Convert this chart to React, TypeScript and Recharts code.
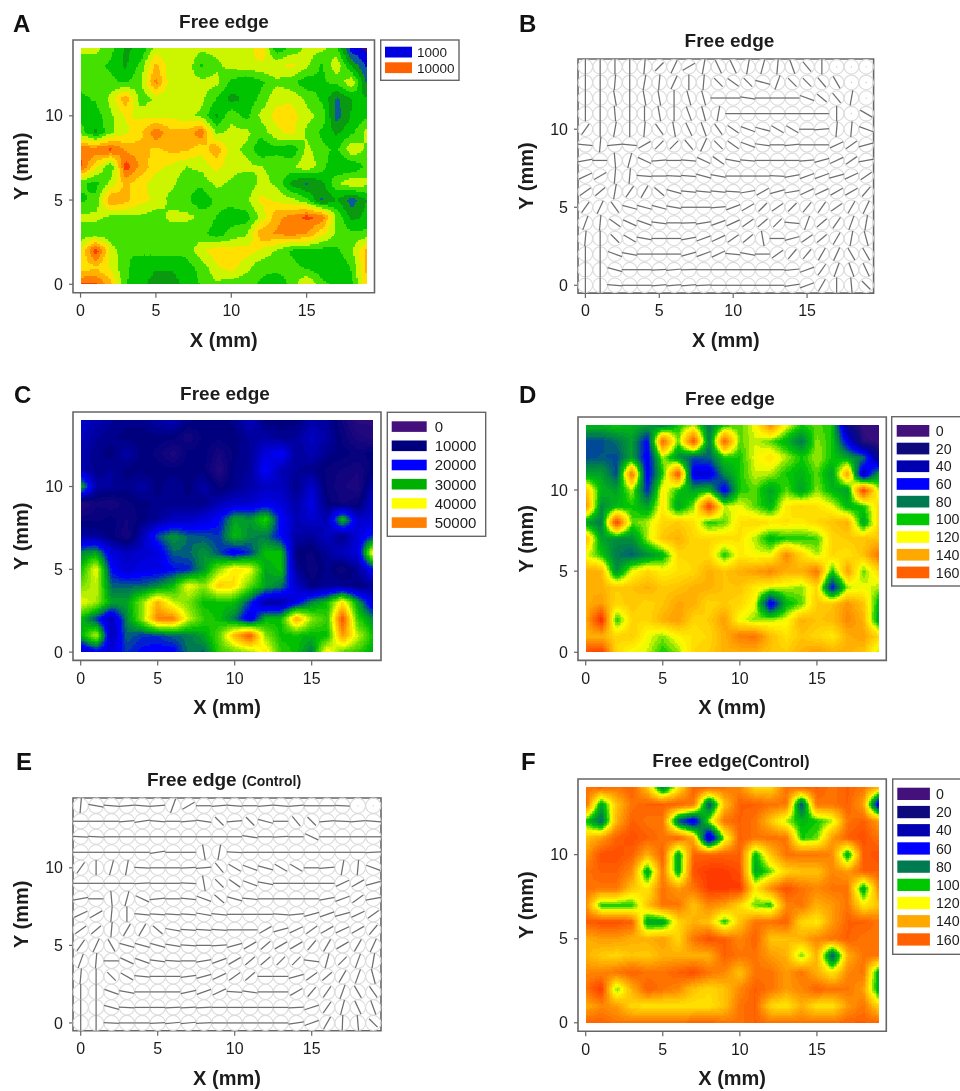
import React from 'react';
import { ScatterChart, Scatter, XAxis, YAxis, ReferenceArea, Label } from 'recharts';

// ---- measured grids: first row is Y = 14, last row is Y = 0; columns X = 0..19 ----
// Panel A, thousands of counts
const panelA = [
  [6,6,5,3.5,4,6,6,6.5,6,6,6,6,7.5,4,5,6,6,5,1,0.5],
  [5,5,4.5,3.5,5,8,6,6.5,4.5,5.5,6,6.5,6.5,6.5,7,6,4.5,6.5,3.5,1.5],
  [5,5,5,4.5,5.5,9,6,6,6,6,4.5,3.7,4.5,5.5,5,4,4.5,5,6.5,2.5],
  [4.5,4.8,6,8.5,5,6,6,6,6,4.7,3.3,4,5,6.5,6.5,5.5,4.5,2.5,3.7,3.8],
  [4.3,4.2,5.5,6.8,6.5,6.5,6.5,6,5.5,3.5,5.5,4.3,6,7,7.2,6,5.5,2.2,3.8,4.5],
  [5.2,3.5,5.5,6.5,7.5,9.5,8,8,9.5,5.5,6,6,5,6.5,7,5.5,4.5,3.5,4.5,6],
  [9.5,9.5,10,8.5,8,7.5,8,8,7,8.5,6,5.5,3.8,4.3,3.8,6,5,4.5,6.5,5.5],
  [10,7,4.7,10.3,8.5,7,6.5,5.7,6,7,6.2,6,5.7,5.5,5.5,6.5,5.2,3.7,3.8,5],
  [5,4.3,6,8,7,6.2,6,5,5,6,5.5,4.8,6,5.5,3.3,2.5,3.4,5.5,6.5,6],
  [4.5,5,8.7,8,7,6.5,5.3,5,3.8,5,5,5.5,7,6.5,6,5,2.5,3.7,2.2,3.7],
  [6,6,5.5,5.5,5.5,5,6,6,5.5,4.7,4.2,4.2,6,8.5,9,10,9.5,5.5,3.3,4],
  [5,5,4.7,4.8,5,5,5,5,5,4.2,5,5.5,8.5,8.8,9,8.7,7,5.5,5,5],
  [6.5,10.5,6.5,4.7,4.8,5,5,5,6.5,7.3,7.2,7.2,6.5,5.5,4.5,4.3,4.3,4.5,5.5,8],
  [7,7.5,6.5,4.8,4.4,3.8,3.8,4.3,5,6.5,7.2,6,5,5,5,4.5,4,3.8,4.8,8],
  [10,10,8,4.8,4,3.2,3.2,4,4.8,5.5,5,5,4.5,4,5,7,5,4.5,4.5,7.5],
];
// Panel C, thousands of counts
const panelC = [
  [16,14,12,11,11,13,14,11,10,10,11,15,10,10,10,13,12,8,4,4],
  [15,12,11,10,10,10,10,7,10,10,10,12,13,11,12,15,13,9,6,5],
  [14,11,10,13,10,9,6,10,10,7,10,12,17,20,12,14,11,10,9,10],
  [14,11,12,10,10,10,10,10,10,5,11,12,20,14,12,11,9,8,7,10],
  [30,13,12,11,13,10,12,10,13,9,11,13,15,15,11,16,9,7,6,14],
  [5,8,7,9,10,11,11,11,11,14,16,16,18,17,13,18,10,8,9,16],
  [9,9,10,8,10,12,15,15,17,20,28,27,32,20,14,16,14,30,16,16],
  [13,12,10,7,14,23,27,24,23,22,30,26,25,20,13,12,15,11,17,22],
  [26,28,17,15,16,17,24,24,27,23,18,22,30,30,10,9,12,15,17,42],
  [30,40,20,16,18,18,20,21,27,36,42,40,28,30,12,8,11,8,12,20],
  [35,38,24,24,24,26,30,40,36,44,42,34,28,25,16,10,12,12,10,12],
  [40,37,28,28,36,46,38,35,30,30,30,22,13,13,18,26,30,42,28,16],
  [30,22,14,26,36,50,50,38,32,30,25,17,29,30,47,36,32,54,32,26],
  [28,38,14,24,22,22,24,25,28,34,46,54,36,30,30,29,30,48,38,30],
  [14,18,17,22,20,19,19,25,24,32,34,36,42,32,30,25,42,34,32,28],
];
// Panel D
const panelD = [
  [95,95,100,95,90,80,100,110,80,100,105,115,145,115,100,105,100,25,5,5],
  [72,72,78,90,60,155,105,160,80,155,105,112,105,95,80,108,100,55,10,5],
  [72,74,72,90,55,110,85,72,75,100,100,115,122,110,100,110,100,90,80,25],
  [90,90,72,150,55,100,160,50,50,85,100,112,110,100,95,105,90,140,40,90],
  [130,95,90,110,65,120,100,90,95,55,100,105,90,105,90,108,95,90,165,110],
  [145,85,95,100,90,120,90,108,165,112,115,105,95,120,125,122,115,95,100,125],
  [90,80,165,105,110,125,128,122,100,105,122,125,122,122,120,125,130,135,90,125],
  [135,90,85,85,110,130,135,125,125,125,122,110,95,100,100,103,125,128,130,130],
  [115,100,80,75,85,95,125,125,125,100,120,115,115,145,125,110,125,122,130,150],
  [135,135,85,115,125,118,122,125,135,130,135,140,145,135,135,150,100,140,105,125],
  [135,135,128,130,135,128,130,135,135,130,130,120,115,112,108,125,60,110,115,110],
  [135,140,125,130,125,130,138,135,125,128,125,115,50,95,105,128,130,142,130,95],
  [135,170,100,125,125,135,140,125,128,140,115,108,110,115,135,130,132,145,135,90],
  [135,135,125,128,115,108,118,122,125,135,148,150,132,122,130,125,120,135,140,125],
  [160,165,125,115,112,100,108,125,128,135,135,135,130,128,135,140,135,135,130,110],
];
// Panel F
const panelF = [
  [150,155,150,155,130,80,120,155,155,150,145,125,125,150,155,155,150,155,150,135],
  [155,90,130,150,155,155,155,150,70,130,155,155,150,150,70,150,150,155,140,50],
  [100,75,135,155,150,150,75,50,110,150,155,150,130,110,95,100,110,150,155,140],
  [130,140,155,160,155,150,155,135,40,110,155,150,150,150,100,105,140,155,160,150],
  [140,160,160,155,135,155,90,155,155,155,155,95,130,150,150,150,145,90,155,160],
  [150,155,155,145,90,150,90,160,165,165,160,90,105,125,130,130,145,140,155,155],
  [150,150,150,130,120,150,140,150,165,165,165,120,145,160,150,145,150,150,90,145],
  [145,100,100,100,130,150,150,130,145,140,125,105,100,145,150,135,140,150,120,130],
  [155,160,160,155,90,90,125,135,130,100,130,150,150,155,125,120,140,155,155,150],
  [135,140,140,135,135,140,125,150,160,155,145,155,130,130,135,145,150,155,150,150],
  [135,128,125,130,128,135,135,135,135,155,150,150,140,135,105,135,70,135,150,150],
  [145,145,150,155,150,150,155,160,150,145,130,150,150,140,150,135,120,145,150,90],
  [150,165,105,135,155,150,145,130,125,130,145,155,150,140,145,155,150,150,140,90],
  [135,145,140,125,122,120,122,122,122,130,150,155,125,120,135,122,122,140,150,125],
  [155,155,150,150,150,150,150,155,155,150,150,155,150,150,150,150,150,155,155,155],
];
// Panel B, fibre orientation in degrees (null: no preferred direction)
const panelB = [
  [90,90,90,90,85,45,65,30,80,-65,-65,80,75,85,-70,-50,90,null,null,null],
  [90,90,85,90,80,85,65,90,85,-45,-35,-45,-15,70,-45,-45,-50,-60,null,null],
  [90,90,-80,90,-80,-80,90,-75,-75,0,0,-8,0,0,0,-20,-40,-50,80,null],
  [90,90,-85,90,90,-80,90,-70,-75,80,0,0,0,0,0,0,0,90,null,-30],
  [55,90,80,90,85,-55,-80,-65,-70,-55,-35,-20,-15,-30,-30,0,5,85,85,-20],
  [-5,85,5,-5,30,45,45,-50,65,-45,-35,-20,-8,0,5,0,0,25,35,15],
  [10,0,-85,75,-25,5,0,-5,-25,-35,-10,-5,0,0,0,5,15,25,35,10],
  [25,30,85,85,-5,0,-3,-5,-15,-10,0,0,0,-3,10,20,20,15,25,35],
  [35,40,80,55,60,-40,-15,-5,-5,-5,-3,10,30,15,10,25,25,30,30,50],
  [55,65,-55,-15,-15,-15,-10,0,0,5,20,30,45,35,45,50,55,35,60,65],
  [70,85,-35,-25,-20,-8,0,2,10,20,25,35,40,45,-5,70,40,55,70,80],
  [85,90,-45,-30,-10,0,0,10,20,25,35,40,-80,0,15,35,40,60,80,-75],
  [90,90,-20,-10,0,0,0,15,20,25,-5,-10,0,35,50,50,60,65,-60,-60],
  [90,90,-15,0,0,3,5,2,0,0,0,0,0,0,5,20,55,70,-70,-65],
  [90,90,-5,0,0,5,5,5,3,0,0,0,0,0,8,20,60,90,-85,-45],
];
// Panel E, fibre orientation in degrees (null: no preferred direction)
const panelE = [
  [85,-10,-5,5,-5,5,70,30,0,5,-5,0,5,-5,5,0,0,-3,null,null],
  [0,0,0,5,8,-5,0,5,-8,-45,5,-45,-15,0,-50,-45,5,-3,5,-5],
  [-3,-3,0,0,0,0,0,0,0,0,0,-8,0,3,0,-25,0,0,0,0],
  [0,0,0,0,0,8,0,0,-80,80,-3,0,0,0,0,0,0,0,0,3],
  [55,90,75,80,-3,0,0,3,5,-50,-30,-20,-15,-30,-30,0,5,80,85,-20],
  [0,0,0,0,3,0,0,-3,-80,-45,-35,-20,-10,0,0,0,0,25,30,15],
  [10,0,-85,75,-25,5,0,-5,-20,-40,-15,-5,0,0,0,0,10,20,35,10],
  [25,30,85,90,-5,-3,-3,-3,-10,-5,0,0,0,-3,5,15,20,15,25,35],
  [35,40,85,60,60,-40,-10,-3,-3,-3,0,0,30,15,25,35,30,25,30,50],
  [55,65,-60,-15,-15,-15,-10,-3,0,3,15,30,40,30,30,50,60,30,60,65],
  [70,85,0,-25,-20,-8,-3,0,10,20,30,40,40,45,45,-8,75,45,70,80],
  [85,90,-45,-30,-5,0,0,8,15,25,35,40,0,0,15,35,40,60,70,-75],
  [90,90,-20,-10,0,0,0,12,20,25,-3,-8,0,0,30,50,55,70,-60,-55],
  [90,90,-15,-3,0,0,3,3,3,0,0,0,0,0,3,18,55,75,-65,-70],
  [90,90,-3,0,0,3,5,5,3,0,0,0,0,0,8,20,60,88,-85,-45],
];

const xTicks = [0, 5, 10, 15];
const yTicks = [0, 5, 10];
const legendA = ['1000', '10000'];
const legendC = ['0', '10000', '20000', '30000', '40000', '50000'];
const legendDF = ['0', '20', '40', '60', '80', '100', '120', '140', '160'];
const legendAColors = ['#0000e0', '#ff6000'];
const legendCColors = ['#44107c', '#00007f', '#0000ff', '#00b000', '#ffff00', '#ff8000'];
const legendDFColors = ['#44107c', '#0c0a7c', '#0000b0', '#0000ff', '#007a50', '#00c800', '#ffff00', '#ffa800', '#ff6000'];

const FONT = '"Liberation Sans", Arial, sans-serif';
const INK = '#1c1c1c';
const FRAME = '#666666';

// ---- colours ----
type Stop = [number, number, number, number];
const rampC: Stop[] = [
  [0, 0x44, 0x10, 0x7c], [10, 0, 0, 0x7f], [15, 0, 0, 0xc0], [20, 0, 0, 0xff], [25, 0, 0x7a, 0x50],
  [30, 0, 0xc0, 0], [35, 0x70, 0xe0, 0], [40, 0xff, 0xff, 0], [50, 0xff, 0x80, 0], [60, 0xff, 0, 0],
];
const rampDF: Stop[] = [
  [0, 0x44, 0x10, 0x7c], [20, 0x0c, 0x0a, 0x7c], [40, 0, 0, 0xb0], [60, 0, 0, 0xff], [80, 0, 0x7a, 0x50],
  [100, 0, 0xc8, 0], [115, 0xff, 0xff, 0], [135, 0xff, 0xb0, 0], [155, 0xff, 0x60, 0], [180, 0xff, 0, 0],
];
const stepA = ['#3a0a80', '#0000e0', '#0a5a9c', '#0a9a10', '#00c400', '#44e000', '#ccf500', '#ffe000', '#ffb000', '#ff8000', '#ff3c00', '#ff2000'];

const rampColor = (ramp: Stop[], step: number) => (v: number) => {
  const q = Math.round(v / step) * step;
  let k = 0;
  while (k < ramp.length - 2 && q > ramp[k + 1][0]) k++;
  const a = ramp[k], b = ramp[k + 1];
  const t = Math.max(0, Math.min(1, (q - a[0]) / (b[0] - a[0])));
  const c = [1, 2, 3].map((i) => Math.round(a[i] + (b[i] - a[i]) * t));
  return `rgb(${c[0]},${c[1]},${c[2]})`;
};
const colorA = (v: number) => stepA[Math.max(0, Math.min(stepA.length - 1, Math.floor(v + 0.3)))];
const colorC = rampColor(rampC, 1.25);
const colorDF = rampColor(rampDF, 3);

const tableOf = (rows: (number | null)[][]) =>
  rows.flatMap((row, r) => row.map((value, x) => ({ x, y: 14 - r, value })));

// ---- marks ----
const SUB = 10;
const heatShape = (grid: number[][], colorOf: (v: number) => string, pxX: number, pxY: number) => (props: any) => {
  const { cx, cy, payload } = props;
  const col = payload.x;
  const row = 14 - payload.y;
  if (col >= 19 || row <= 0) return <g />;
  const v00 = grid[row][col], v10 = grid[row][col + 1], v01 = grid[row - 1][col], v11 = grid[row - 1][col + 1];
  const paths: Record<string, string> = {};
  const w = pxX / SUB, h = pxY / SUB;
  for (let i = 0; i < SUB; i++) {
    for (let j = 0; j < SUB; j++) {
      const u = (i + 0.5) / SUB, t = (j + 0.5) / SUB;
      const val = (v00 * (1 - u) + v10 * u) * (1 - t) + (v01 * (1 - u) + v11 * u) * t;
      const c = colorOf(val);
      const x0 = cx + i * w, y0 = cy - (j + 1) * h;
      paths[c] = (paths[c] || '') + `M${x0.toFixed(2)} ${y0.toFixed(2)}h${(w + 0.15).toFixed(2)}v${(h + 0.15).toFixed(2)}h${(-w - 0.15).toFixed(2)}z`;
    }
  }
  return <g>{Object.keys(paths).map((c) => <path key={c} d={paths[c]} fill={c} shapeRendering="crispEdges" />)}</g>;
};

const stickShape = (pxX: number, pxY: number) => (props: any) => {
  const { cx, cy, payload } = props;
  const r = Math.min(pxX, pxY) / 2 - 0.1;
  const a = payload.value;
  const circle = <circle cx={cx} cy={cy} r={r} fill="none" stroke="#dcdcdc" strokeWidth={1.1} />;
  if (a === null) {
    return <g>{circle}<circle cx={cx} cy={cy} r={0.6} fill="#bbbbbb" /></g>;
  }
  const rad = (a * Math.PI) / 180;
  const len = 12 + 3.8 * Math.abs(Math.cos(2 * rad));
  const dx = (Math.cos(rad) * len) / 2, dy = (Math.sin(rad) * len) / 2;
  return (
    <g>
      {circle}
      <line x1={cx - dx} y1={cy + dy} x2={cx + dx} y2={cy - dy} stroke="#6e6e6e" strokeWidth={1.25} />
    </g>
  );
};

// ---- panels ----
type Box = { l: number; t: number; r: number; b: number };
const Panel = ({ box, rows, colorOf }: { box: Box; rows: (number | null)[][]; colorOf?: (v: number) => string }) => {
  const bw = box.r - box.l, bh = box.b - box.t;
  const pxX = bw / 20, pxY = bh / 15;
  const left = 72, top = 10, bottom = 62;
  const shape = colorOf ? heatShape(rows as number[][], colorOf, pxX, pxY) : stickShape(pxX, pxY);
  return (
    <div className={colorOf ? 'heat' : 'sticks'} style={{ position: 'absolute', left: box.l - left, top: box.t - top }}>
      <ScatterChart width={left + bw + 4} height={top + bh + bottom} margin={{ left: 0, top, right: 4, bottom: 0 }}>
        <XAxis
          type="number" dataKey="x" domain={[-0.5, 19.5]} ticks={xTicks} interval={0} height={bottom}
          axisLine={false} tickSize={5} tickMargin={7} tickLine={{ stroke: FRAME, strokeWidth: 1.2 }}
          tick={{ fontSize: 16, fontFamily: FONT, fill: INK }}
        >
          <Label content={(p: any) => (
            <text x={p.viewBox.x + p.viewBox.width / 2} y={box.b - (box.t - top) + 54} textAnchor="middle"
              fontSize={20} fontWeight={700} fontFamily={FONT} fill={INK}>X (mm)</text>
          )} />
        </XAxis>
        <YAxis
          type="number" dataKey="y" domain={[-0.5, 14.5]} ticks={yTicks} interval={0} width={left}
          axisLine={false} tickSize={4} tickMargin={6} tickLine={{ stroke: FRAME, strokeWidth: 1.2 }}
          tick={{ fontSize: 16, fontFamily: FONT, fill: INK }}
        >
          <Label content={() => {
            const x = left - 45, y = top + bh / 2;
            return (
              <text x={x} y={y} transform={`rotate(-90 ${x} ${y})`} textAnchor="middle"
                fontSize={20} fontWeight={700} fontFamily={FONT} fill={INK}>Y (mm)</text>
            );
          }} />
        </YAxis>
        <Scatter data={tableOf(rows)} isAnimationActive={false} shape={shape} />
        <ReferenceArea x1={-0.5} x2={19.5} y1={-0.5} y2={14.5} fill="none" fillOpacity={0} stroke={FRAME} strokeWidth={1.6} ifOverflow="visible" />
      </ScatterChart>
    </div>
  );
};

const LegendBox = ({ box, sw, labels, colors, fontSize, gap }: {
  box: [number, number, number, number]; sw: [number, number, number, number, number]; labels: string[]; colors: string[]; fontSize: number; gap: number;
}) => {
  const [x0, y0, x1, y1] = box;
  const [sx, sy, swW, swH, step] = sw;
  return (
    <g>
      <rect x={x0} y={y0} width={x1 - x0} height={y1 - y0} fill="#fff" stroke={FRAME} strokeWidth={1.4} />
      {labels.map((t, i) => (
        <g key={t}>
          <rect x={sx} y={sy + i * step} width={swW} height={swH} fill={colors[i]} />
          <text x={sx + swW + gap} y={sy + i * step + swH / 2 + fontSize * 0.36} fontSize={fontSize} fontFamily={FONT} fill={INK}>{t}</text>
        </g>
      ))}
    </g>
  );
};

const Title = ({ x, y, main, sub, subSize }: { x: number; y: number; main: string; sub?: string; subSize?: number }) => (
  <text x={x} y={y} textAnchor="middle" fontFamily={FONT} fontWeight={700} fontSize={19} fill={INK}>
    {main}
    {sub ? <tspan fontSize={subSize}>{sub}</tspan> : null}
  </text>
);

const letters: [string, number, number][] = [
  ['A', 13, 31.5], ['B', 519, 31.5], ['C', 14, 403], ['D', 519, 403], ['E', 16, 770], ['F', 521, 770],
];

export default function App() {
  return (
    <div style={{ position: 'absolute', left: 0, top: 0, width: 960, height: 1091, overflow: 'hidden', background: '#fff', filter: 'blur(0.3px)' }}>
      <style>{`.heat .recharts-scatter { filter: blur(0.7px); }`}</style>
      <svg width={960} height={1091} style={{ position: 'absolute', left: 0, top: 0 }}>
        {letters.map(([t, x, y]) => (
          <text key={t} x={x} y={y} fontFamily={FONT} fontWeight={700} fontSize={24} fill="#111">{t}</text>
        ))}
        <Title x={224} y={28} main="Free edge" />
        <Title x={729.5} y={47} main="Free edge" />
        <Title x={225} y={400} main="Free edge" />
        <Title x={730} y={405} main="Free edge" />
        <Title x={224} y={786} main="Free edge " sub="(Control)" subSize={14} />
        <Title x={731} y={767} main="Free edge" sub="(Control)" subSize={16} />
        <LegendBox box={[380.7, 40, 459, 80.3]} sw={[385, 46.7, 27, 10.8, 15.6]} labels={legendA} colors={legendAColors} fontSize={13.5} gap={5} />
        <LegendBox box={[387.3, 412.3, 485.7, 536.3]} sw={[391.7, 421.3, 35, 10.6, 19.2]} labels={legendC} colors={legendCColors} fontSize={15} gap={8} />
        <LegendBox box={[891.7, 416.7, 990, 586]} sw={[896.7, 425, 32.6, 11.7, 17.7]} labels={legendDF} colors={legendDFColors} fontSize={14.2} gap={6.5} />
        <LegendBox box={[892.7, 779, 990, 954.3]} sw={[897.3, 787.7, 32.6, 12.3, 18.2]} labels={legendDF} colors={legendDFColors} fontSize={14.2} gap={6} />
      </svg>
      <Panel box={{ l: 72.7, t: 40.3, r: 374.2, b: 293 }} rows={panelA} colorOf={colorA} />
      <Panel box={{ l: 577.7, t: 59.3, r: 873.3, b: 293.4 }} rows={panelB} />
      <Panel box={{ l: 72.7, t: 412.3, r: 380.7, b: 660.7 }} rows={panelC} colorOf={colorC} />
      <Panel box={{ l: 577.7, t: 417.3, r: 886, b: 660.7 }} rows={panelD} colorOf={colorDF} />
      <Panel box={{ l: 72.7, t: 798.3, r: 380.7, b: 1031 }} rows={panelE} />
      <Panel box={{ l: 577.7, t: 779.3, r: 886, b: 1031.5 }} rows={panelF} colorOf={colorDF} />
    </div>
  );
}
